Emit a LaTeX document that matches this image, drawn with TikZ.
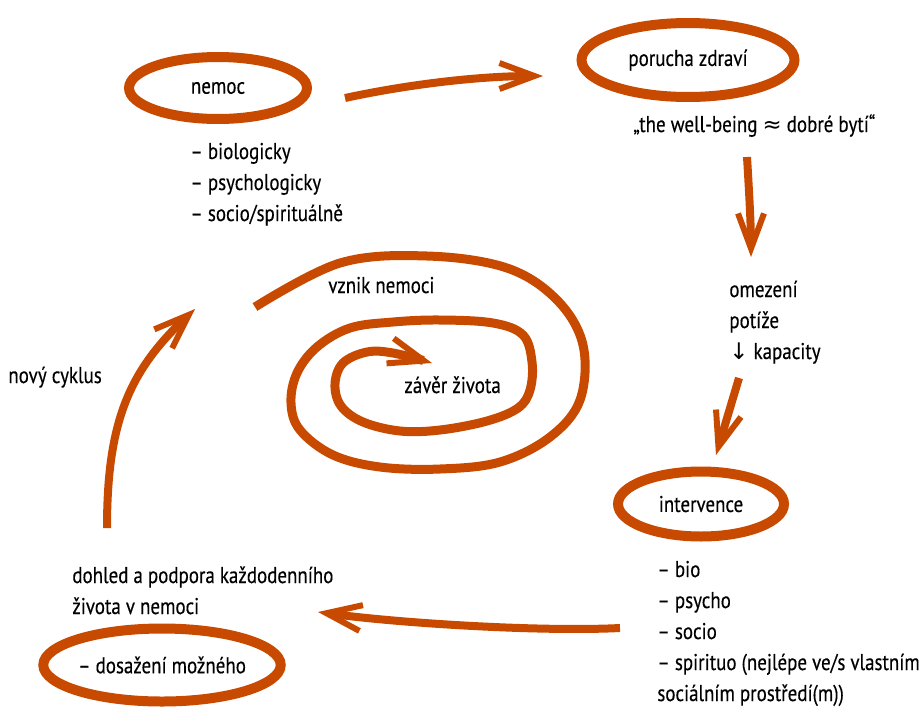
\documentclass[tikz,border=0pt]{standalone}
\usepackage{fontspec}
\setmainfont{PT Sans}[FakeStretch=0.83, FakeBold=0.3]
\newfontfamily\symfont{DejaVu Sans}
\usetikzlibrary{arrows.meta,shapes.geometric}
\definecolor{rust}{RGB}{200,74,0}
\begin{document}
\begin{tikzpicture}[x=0.02cm,y=-0.02cm,
  txt/.style={font=\fontsize{13}{15}\selectfont, text=black, inner sep=0pt, anchor=base west},
  oval/.style={draw=rust, line width=0.2cm, ellipse, inner sep=0pt, font=\fontsize{13}{15}\selectfont, text=black},
  barb/.style={-{Straight Barb[length=0.7cm, width=0.52cm, line width=3.4pt, sharp]}},
  arr/.style={draw=rust, line width=0.16cm, barb},
]
\useasboundingbox (0,0) rectangle (922,714);

% ovals
\node[oval, minimum width=3.56cm, minimum height=1.24cm] (nemoc) at (218,88) {nemoc};
\node[oval, minimum width=4.26cm, minimum height=1.48cm] (porucha) at (688,60) {porucha zdraví};
\node[oval, minimum width=3.32cm, minimum height=1.30cm] (interv) at (701,504) {intervence};
\node[oval, minimum width=4.62cm, minimum height=1.46cm] (dosaz) at (162,665) {– dosažení možného};

% texts
\node[txt] (n1) at (190,159) {– biologicky};
\node[txt] (n2) at (190,190) {– psychologicky};
\node[txt] (n3) at (190,221) {– socio/spirituálně};
\node[txt] (wb) at (633,132) {„the well-being {\symfont ≈} dobré bytí“};
\node[txt] (o1) at (729,297) {omezení};
\node[txt] (o2) at (729,328) {potíže};
\node[txt] (o3) at (729,359) {{\symfont ↓} kapacity};
\node[txt] (i1) at (657,577) {– bio};
\node[txt] (i2) at (657,608) {– psycho};
\node[txt] (i3) at (657,639) {– socio};
\node[txt] (i4) at (657,670) {– spirituo (nejlépe ve/s vlastním};
\node[txt] (i5) at (657,701) {sociálním prostředí(m))};
\node[txt] (d1) at (72,583) {dohled a podpora každodenního};
\node[txt] (d2) at (72,614) {života v nemoci};
\node[txt] (ncy) at (8,383) {nový cyklus};
\node[txt] (vzn) at (328,293) {vznik nemoci};
\node[txt] (zav) at (404,393) {závěr života};

% arrow end points
\coordinate (a1s) at (345,98);  \coordinate (a1e) at (543,76);
\coordinate (a2s) at (747,157); \coordinate (a2e) at (751,257);
\coordinate (a3s) at (739,378); \coordinate (a3e) at (716,455);
\coordinate (a4s) at (620,628); \coordinate (a4e) at (318,612);
\coordinate (a5s) at (107,528); \coordinate (a5e) at (195,309);

\draw[arr] (a1s) .. controls (410,84) and (480,76) .. (a1e);
\draw[arr] (a2s) .. controls (749,190) and (751,225) .. (a2e);
\draw[arr] (a3s) -- (a3e);
\draw[arr] (a4s) .. controls (540,632) and (397,623) .. (a4e);
\draw[arr] (a5s) .. controls (107,420) and (130,370) .. (a5e);

% spiral
\draw[rust, line width=0.18cm, barb] plot[smooth, tension=0.6] coordinates {
 (255,307) (340,263) (427,256) (507,268) (557,300) (583,345) (580,400)
 (550,437) (500,462) (440,469) (380,467) (333,455) (300,430) (291,403)
 (297,373) (317,347) (350,328) (393,322) (440,320) (493,323) (523,335)
 (532,362) (530,390) (518,408) (487,421) (440,430) (400,431) (363,422)
 (341,406) (335,384) (343,363) (367,352) (393,353) (432,363)};
\end{tikzpicture}
\end{document}
